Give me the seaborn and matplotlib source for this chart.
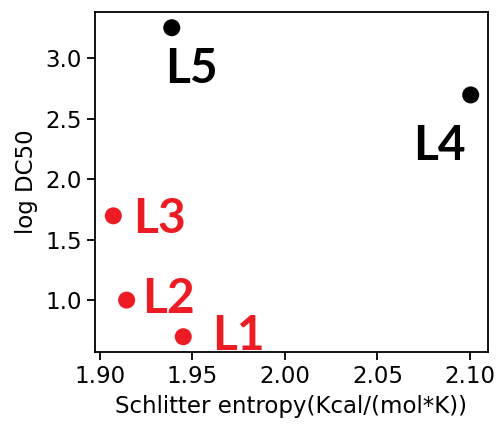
import matplotlib
matplotlib.use("Agg")
import matplotlib.pyplot as plt
import seaborn as sns
import pandas as pd

labels = ["L1", "L2", "L3", "L4", "L5"]
entropy = [1.945, 1.9144, 1.9072, 2.1004, 1.9388]
log_dc50 = [0.697, 1.00, 1.697, 2.697, 3.253]
group = ["red", "red", "red", "black", "black"]
palette = {"red": "#ED1C24", "black": "#000000"}
# label offsets in pixels (dx, dy) relative to each point
offsets = [(28.7, -13.3), (15.3, -13), (19.7, -17.3), (-57.7, -65), (-6.7, -55.3)]

df = pd.DataFrame({"label": labels, "x": entropy, "y": log_dc50, "group": group})

sns.set_style("ticks")
plt.rcParams["font.family"] = ["DejaVu Sans"]
plt.rcParams["text.color"] = "black"
plt.rcParams["axes.labelcolor"] = "black"

fig = plt.figure(figsize=(4.99, 4.24), dpi=100)
ax = fig.add_axes([0.1904, 0.1705, 0.9774 - 0.1904, 0.9717 - 0.1705])

sns.scatterplot(data=df, x="x", y="y", hue="group", palette=palette,
                s=150, edgecolor="none", legend=False, ax=ax, zorder=3)

for lab, xv, yv, g, (dx, dy) in zip(labels, entropy, log_dc50, group, offsets):
    ax.annotate(lab, (xv, yv), xytext=(dx, dy), textcoords="offset pixels",
                ha="left", va="baseline", fontsize=34.5, fontweight="bold",
                family=["Lato", "DejaVu Sans"], color=palette[g])

ax.set_xlim(1.8973, 2.1096)
ax.set_ylim(0.573, 3.383)
ax.set_xticks([1.90, 1.95, 2.00, 2.05, 2.10])
ax.set_yticks([1.0, 1.5, 2.0, 2.5, 3.0])
ax.set_xticklabels(["1.90", "1.95", "2.00", "2.05", "2.10"])
ax.set_yticklabels(["1.0", "1.5", "2.0", "2.5", "3.0"])
ax.tick_params(labelsize=16.5, length=6, width=1.3, direction="out",
               colors="black", labelcolor="black")
ax.set_xlabel("Schlitter entropy(Kcal/(mol*K))", fontsize=16.5, labelpad=5)
ax.set_ylabel("log DC50", fontsize=16.5, labelpad=5)
for sp in ax.spines.values():
    sp.set_visible(True)
    sp.set_linewidth(1.3)
    sp.set_color("black")

fig.savefig("out.png", dpi=100)
